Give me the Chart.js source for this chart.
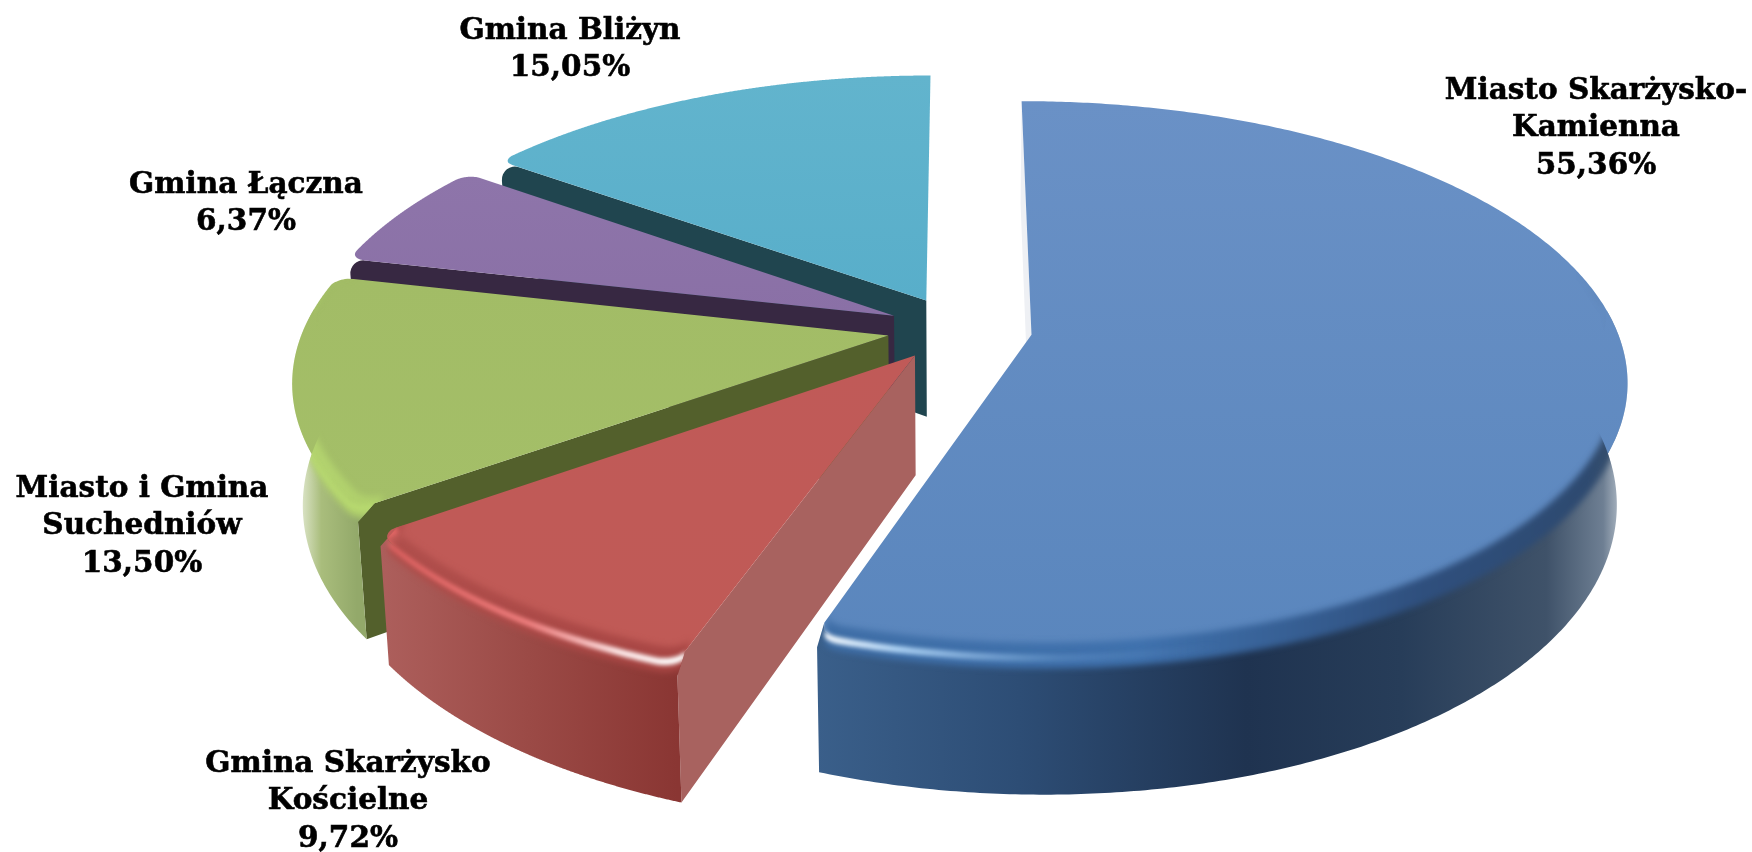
<!DOCTYPE html>
<html>
<head>
<meta charset="utf-8">
<script src="https://cdn.jsdelivr.net/npm/chart.js@4"></script>
<style>
  html, body { margin: 0; padding: 0; background: #fff; }
  #wrap { width: 1752px; height: 852px; }
</style>
</head>
<body>
<div id="wrap"><canvas id="myChart"></canvas></div>
<script>
// data, clockwise from 12 o'clock
var labels = [
  ["Miasto Skarżysko-", "Kamienna"],
  ["Gmina Skarżysko", "Kościelne"],
  ["Miasto i Gmina", "Suchedniów"],
  ["Gmina Łączna"],
  ["Gmina Bliżyn"]
];
var values = [55.36, 9.72, 13.50, 6.37, 15.05];

// where the label blocks sit (centre x, y of first line)
var labelPos = [[1596, 91], [348, 764], [142, 489], [246, 185], [570, 31]];

// top face, top -> bottom
var topColors = [
  ["#6a91c6", "#5a86bd"],
  ["#c05a58", "#c05a56"],
  ["#a2bc66", "#a4bf68"],
  ["#8e75aa", "#8a70a6"],
  ["#62b4cd", "#58aeca"]
];
var cutColors = ["#eef0f4", "#a8625f", "#53602c", "#372842", "#20454f"];
// outer wall, [offset, colour], left -> right of the slice
var wallColors = [
  [[0, "#3a5f8a"], [0.25, "#2d4d75"], [0.53, "#1f3350"], [0.72, "#273d59"], [0.9, "#3f5269"], [0.97, "#6e7f93"], [1, "#c8d0d8"]],
  [[0, "#ad5f5c"], [0.5, "#9b4a46"], [1, "#8a3633"]],
  [[0, "#f4f7ec"], [0.45, "#a9bd7c"], [1, "#93a96a"]],
  [[0, "#372842"], [1, "#372842"]],
  [[0, "#20454f"], [1, "#20454f"]]
];
// bevel between top and wall
var bevelColors = [
  [[0, "#3f6ea6"], [0.4, "#3f71ad"], [0.75, "#2f4f7d"], [0.95, "#2e4a70"], [1, "#3a5068"]],
  [[0, "#b04f4c"], [1, "#a84644"]],
  [[0, "#b4d470"], [1, "#b0d06c"]],
  [[0, "#9a80b6"], [1, "#9a80b6"]],
  [[0, "#62b4cd"], [1, "#62b4cd"]]
];
// thin light on the rim
var shineColors = [
  [[0, "rgba(255,255,255,1)"], [0.1, "rgba(190,225,255,.85)"], [0.3, "rgba(150,195,240,.2)"], [0.5, "rgba(120,160,210,0)"], [1, "rgba(120,160,210,0)"]],
  [[0, "rgba(255,110,110,.55)"], [0.5, "rgba(255,140,140,.8)"], [0.8, "rgba(255,235,235,1)"], [1, "rgba(255,255,255,1)"]],
  [[0, "rgba(190,225,115,.5)"], [1, "rgba(190,225,115,.5)"]],
  [[0, "rgba(170,145,200,.3)"], [1, "rgba(170,145,200,.3)"]],
  [[0, "rgba(120,200,220,.3)"], [1, "rgba(120,200,220,.3)"]]
];

// view of the tilted disc, relative to the chart's own radius
var persp = 0.155, sx = 1.778, sy = 0.815, depth = 0.359, shrink = 0.016;
var explodes = [0.127, 0.121, 0.121, 0.121, 0.121];
var drawOrder = [4, 3, 2, 1, 0];

function gradient(ctx, x0, x1, y0, y1, stops) {
  var g = ctx.createLinearGradient(x0, y0, x1, y1);
  stops.forEach(function (s) { g.addColorStop(s[0], s[1]); });
  return g;
}

var pie3d = {
  id: "pie3d",
  beforeDatasetsDraw: function (chart) {
    var ctx = chart.ctx;
    var arcs = chart.getDatasetMeta(0).data;
    drawOrder.forEach(function (i) {
      var arc = arcs[i];
      var R = arc.outerRadius, mid = (arc.startAngle + arc.endAngle) / 2;
      var ax = explodes[i] * Math.cos(mid), ay = explodes[i] * Math.sin(mid);
      function pt(rad, ang, z) {
        var u = ax + rad * Math.cos(ang), v = ay + rad * Math.sin(ang);
        var w = 1 - persp * v;
        return [arc.x + R * sx * u / w * (1 - shrink * z), arc.y + R * (sy * v + depth * z) / w];
      }
      // rim radius, pulled in near the ends so the corners are round
      var span = 0.035, pull = 0.03;
      function rimRad(a) {
        var r = 1;
        if (Math.sin(arc.startAngle) > -0.95 && a < arc.startAngle + span) {
          var t0 = 1 - (a - arc.startAngle) / span;
          r -= pull * (1 - Math.sqrt(Math.max(0, 1 - t0 * t0)));
        }
        if (Math.sin(arc.endAngle) > -0.95 && a > arc.endAngle - span) {
          var t1 = 1 - (arc.endAngle - a) / span;
          r -= pull * (1 - Math.sqrt(Math.max(0, 1 - t1 * t1)));
        }
        return r;
      }
      // band strength along the rim, nothing at the back
      function bandWeight(a) {
        var t = Math.min(1, Math.max(0, (Math.sin(a) + 0.25) / 0.4));
        return t * t * (3 - 2 * t);
      }
      var rim = [], n = 400;
      for (var k = 0; k <= n; k++) rim.push(arc.startAngle + (arc.endAngle - arc.startAngle) * k / n);
      var front = rim.filter(function (a) { return Math.sin(a) > -0.1; });
      var lit = rim.filter(function (a) { return Math.sin(a) > -0.25; });
      var xs = rim.map(function (a) { return pt(1, a, 0)[0]; });
      var ys = rim.map(function (a) { return pt(1, a, 0)[1]; });
      var minX = Math.min.apply(null, xs), maxX = Math.max.apply(null, xs);
      var minY = Math.min.apply(null, ys), maxY = Math.max.apply(null, ys);

      function addPoly(points) {
        points.forEach(function (p, j) { j ? ctx.lineTo(p[0], p[1]) : ctx.moveTo(p[0], p[1]); });
        ctx.closePath();
      }
      function band(zLow, zHigh, inset, blur, stops) {
        var lower = lit.map(function (a) { return pt(rimRad(a), a, zHigh * bandWeight(a)); });
        var upper = lit.slice().reverse().map(function (a) { return pt(rimRad(a) - inset * bandWeight(a), a, zLow * bandWeight(a)); });
        ctx.beginPath();
        addPoly(lower.concat(upper));
        ctx.fillStyle = gradient(ctx, minX, maxX, 0, 0, stops);
        ctx.filter = "blur(" + blur + "px)";
        ctx.fill();
        ctx.filter = "none";
      }

      // the cut face we can see, the other one stays under the top face
      var a0 = arc.startAngle;
      var p0 = pt(0, a0, 0), p1 = pt(1, a0, 0), p2 = pt(1, a0, 1), p3 = pt(0, a0, 1);
      ctx.beginPath();
      ctx.moveTo(p0[0], p0[1]);
      if (Math.sin(a0) > -0.95) ctx.arcTo(p1[0], p1[1], p2[0], p2[1], 13);
      else ctx.lineTo(p1[0], p1[1]);
      ctx.lineTo(p2[0], p2[1]);
      ctx.lineTo(p3[0], p3[1]);
      ctx.closePath();
      ctx.fillStyle = cutColors[i];
      ctx.fill();

      // outer wall
      var wall = [];
      if (front.length) {
        wall = [pt(1, front[0], 0.1)]
          .concat(front.map(function (a) { return pt(rimRad(a), a, 0); }))
          .concat([pt(1, front[front.length - 1], 0.1)])
          .concat(front.slice().reverse().map(function (a) { return pt(1, a, 1); }));
        ctx.beginPath();
        addPoly(wall);
        ctx.fillStyle = gradient(ctx, minX, maxX, 0, 0, wallColors[i]);
        ctx.fill();
      }

      // top face
      var top = [pt(0, arc.startAngle, 0)].concat(rim.map(function (a) { return pt(rimRad(a), a, 0); }));
      ctx.beginPath();
      addPoly(top);
      ctx.fillStyle = gradient(ctx, 0, 0, Math.min(minY, top[0][1]), Math.max(maxY, top[0][1]), [[0, topColors[i][0]], [1, topColors[i][1]]]);
      ctx.fill();

      // bevel + light along the rim, kept inside top and wall
      if (front.length) {
        ctx.save();
        ctx.beginPath();
        addPoly(top);
        addPoly(wall.slice().reverse());
        ctx.clip("nonzero");
        band(-0.04, 0.1, 0.016, 3, bevelColors[i]);
        band(0, 0.05, 0, 2, shineColors[i]);
        ctx.restore();
      }
    });
    return false;
  },
  afterDraw: function (chart) {
    var ctx = chart.ctx;
    ctx.save();
    ctx.fillStyle = "#000";
    ctx.strokeStyle = "#000";
    ctx.lineWidth = 0.6;
    ctx.textAlign = "center";
    ctx.textBaseline = "middle";
    ctx.font = "bold 29.5px 'DejaVu Serif'";
    labels.forEach(function (lines, i) {
      var text = lines.concat([values[i].toFixed(2).replace(".", ",") + "%"]);
      text.forEach(function (t, j) {
        ctx.fillText(t, labelPos[i][0], labelPos[i][1] + j * 37.5);
        ctx.strokeText(t, labelPos[i][0], labelPos[i][1] + j * 37.5);
      });
    });
    ctx.restore();
  }
};

new Chart("myChart", {
  type: "pie",
  data: {
    labels: labels.map(function (l) { return l.join(" "); }),
    datasets: [{ data: values, borderWidth: 0, backgroundColor: cutColors }]
  },
  options: {
    responsive: true,
    maintainAspectRatio: false,
    animation: false,
    layout: { padding: { left: 164, bottom: 194 } },
    plugins: { legend: { display: false }, tooltip: { enabled: false } }
  },
  plugins: [pie3d]
});
</script>
</body>
</html>
